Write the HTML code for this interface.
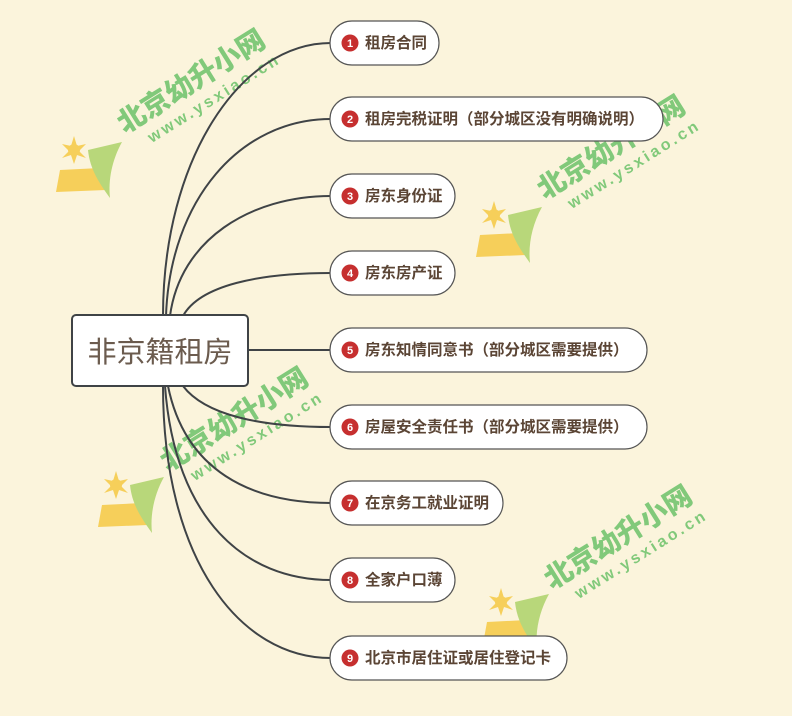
<!DOCTYPE html>
<html><head><meta charset="utf-8"><style>
body{margin:0;background:#fbf4dc;}
svg{display:block}
.t{font-family:"Liberation Sans","Noto Sans CJK SC",sans-serif;font-weight:bold;font-size:15.5px;fill:#5b4535}
.wm{font-family:"Liberation Sans","Noto Sans CJK SC",sans-serif;font-weight:900;fill:#6cc26a;opacity:.85}
</style></head><body>
<svg width="792" height="716" viewBox="0 0 792 716" xmlns="http://www.w3.org/2000/svg">
<rect width="792" height="716" fill="#fbf4dc"/>
<defs>
<g id="logo">
<polygon points="0,30 40,28 46,50 -4,52" fill="#f6cf5a"/>
<path d="M28,10 L62,2 C52,20 48,40 50,58 C40,44 30,30 28,10Z" fill="#b8d77a"/>
<g fill="#f6cf5a"><circle cx="14" cy="10" r="6"/><polygon points="14,-4 17,6 26,4 19,11 26,18 17,15 14,24 11,15 2,18 9,11 2,4 11,6"/></g>
</g>
<g id="wm">
<text class="wm" font-size="28" x="0" y="0">北京幼升小网</text>
<text class="wm" font-size="16" x="18" y="22" letter-spacing="3">www.ysxiao.cn</text>
</g>
</defs>
<use href="#logo" x="60" y="140"/>
<use href="#logo" x="480" y="205"/>
<use href="#logo" x="102" y="475"/>
<use href="#logo" x="487" y="592"/>
<use href="#wm" transform="translate(125,134) rotate(-32)"/>
<use href="#wm" transform="translate(545,200) rotate(-32)"/>
<use href="#wm" transform="translate(168,472) rotate(-32)"/>
<use href="#wm" transform="translate(552,590) rotate(-32)"/>
<g fill="none" stroke="#3f4346" stroke-width="2">
<path d="M163,316 C163,160 240,43 331,43"/>
<path d="M166,316 C170,200 240,119 331,119"/>
<path d="M170,316 C180,240 250,196 331,196"/>
<path d="M183,316 C200,285 260,273 331,273"/>
<path d="M248,350 L331,350"/>
<path d="M183,386 C205,415 260,427 331,427"/>
<path d="M168,386 C185,470 250,503 331,503"/>
<path d="M165,386 C175,520 245,580 331,580"/>
<path d="M163,386 C163,560 240,658 331,658"/>
</g>
<rect x="72" y="315" width="176" height="71" rx="4" fill="#fff" stroke="#3f4346" stroke-width="2"/>
<text x="160" y="362" text-anchor="middle" font-family="'Liberation Sans','Noto Sans CJK SC',sans-serif" font-size="29" fill="#6b5b4e">非京籍租房</text>
<g stroke="#555" stroke-width="1.2" fill="#fff">
<rect x="330" y="21" width="109" height="44" rx="22"/>
<rect x="330" y="97" width="333" height="44" rx="22"/>
<rect x="330" y="174" width="125" height="44" rx="22"/>
<rect x="330" y="251" width="125" height="44" rx="22"/>
<rect x="330" y="328" width="317" height="44" rx="22"/>
<rect x="330" y="405" width="317" height="44" rx="22"/>
<rect x="330" y="481" width="173" height="44" rx="22"/>
<rect x="330" y="558" width="125" height="44" rx="22"/>
<rect x="330" y="636" width="237" height="44" rx="22"/>
</g>
<g fill="#c62f2f">
<circle cx="350" cy="43" r="8.5"/><circle cx="350" cy="119" r="8.5"/><circle cx="350" cy="196" r="8.5"/>
<circle cx="350" cy="273" r="8.5"/><circle cx="350" cy="350" r="8.5"/><circle cx="350" cy="427" r="8.5"/>
<circle cx="350" cy="503" r="8.5"/><circle cx="350" cy="580" r="8.5"/><circle cx="350" cy="658" r="8.5"/>
</g>
<g font-family="Liberation Sans,sans-serif" font-size="11" font-weight="bold" fill="#fff" text-anchor="middle">
<text x="350" y="47">1</text><text x="350" y="123">2</text><text x="350" y="200">3</text>
<text x="350" y="277">4</text><text x="350" y="354">5</text><text x="350" y="431">6</text>
<text x="350" y="507">7</text><text x="350" y="584">8</text><text x="350" y="662">9</text>
</g>
<text class="t" x="365" y="48">租房合同</text>
<text class="t" x="365" y="124">租房完税证明（部分城区没有明确说明）</text>
<text class="t" x="365" y="201">房东身份证</text>
<text class="t" x="365" y="278">房东房产证</text>
<text class="t" x="365" y="355">房东知情同意书（部分城区需要提供）</text>
<text class="t" x="365" y="432">房屋安全责任书（部分城区需要提供）</text>
<text class="t" x="365" y="508">在京务工就业证明</text>
<text class="t" x="365" y="585">全家户口薄</text>
<text class="t" x="365" y="663">北京市居住证或居住登记卡</text>
</svg>
</body></html>
